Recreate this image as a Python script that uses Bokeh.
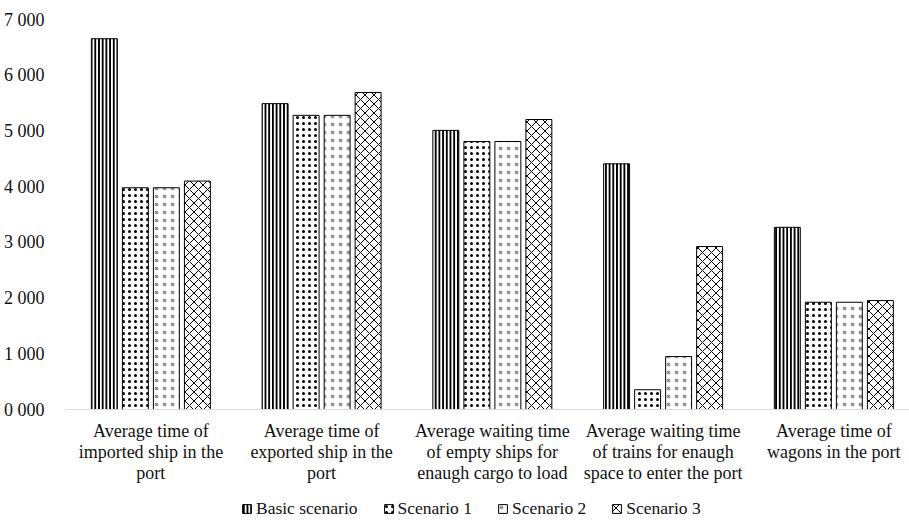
from bokeh.plotting import figure
from bokeh.core.properties import value
from bokeh.models import ColumnDataSource, Range1d, FixedTicker, Legend, LegendItem, Span
from bokeh.transform import dodge
from bokeh.embed import file_html
from bokeh.resources import INLINE

# Category labels (multi-line, as printed under each group)
categories = [
    "Average time of\nimported ship in the\nport",
    "Average time of\nexported ship in the\nport",
    "Average waiting time\nof empty ships for\nenaugh cargo to load",
    "Average waiting time\nof trains for enaugh\nspace to enter the port",
    "Average time of\nwagons in the port",
]

series_names = ["Basic scenario", "Scenario 1", "Scenario 2", "Scenario 3"]

basic_scenario = [6655, 5490, 5010, 4410, 3270]
scenario_1 = [3980, 5280, 4810, 355, 1925]
scenario_2 = [3980, 5280, 4810, 950, 1925]
scenario_3 = [4100, 5690, 5205, 2925, 1955]

y_ticks = [0, 1000, 2000, 3000, 4000, 5000, 6000, 7000]
y_tick_labels = ["0 000", "1 000", "2 000", "3 000", "4 000", "5 000", "6 000", "7 000"]

FONT = "Liberation Serif"
TEXT = "#111111"

W, H = 909, 520
TOP, LEFT = 19, 65
BAR_AREA = 390              # pixels from the 0 line up to 7 000
BELOW = H - TOP - BAR_AREA  # room under the 0 line for labels and legend
Y_MAX = 7000

centers = [i + 0.5 for i in range(len(categories))]
source = ColumnDataSource(dict(
    x=centers, basic=basic_scenario, s1=scenario_1, s2=scenario_2, s3=scenario_3,
))

p = figure(
    width=W, height=H,
    x_range=Range1d(0, 4.943),
    y_range=Range1d(-Y_MAX * BELOW / BAR_AREA, Y_MAX),
    output_backend="svg", toolbar_location=None,
    min_border_left=LEFT, min_border_right=0, min_border_top=TOP, min_border_bottom=0,
    background_fill_color="white", border_fill_color="white",
)
p.outline_line_color = None
p.xgrid.grid_line_color = None
p.ygrid.grid_line_color = None
p.xaxis.visible = False

bar_w = 0.152
offsets = [-0.2724, -0.0908, 0.0908, 0.2724]
styles = [
    dict(hatch_pattern="vertical_line", hatch_scale=3.7, hatch_weight=2.0),
    dict(hatch_pattern="dot", hatch_scale=6, hatch_weight=3.5),
    dict(hatch_pattern="dot", hatch_scale=8, hatch_weight=0.5, hatch_alpha=0.4),
    dict(hatch_pattern="diagonal_cross", hatch_scale=9, hatch_weight=1.0),
]
cols = ["basic", "s1", "s2", "s3"]

# baseline at zero
p.add_layout(Span(location=0, dimension="width", line_color="#d9d9d9", line_width=1))

renderers = []
for col, off, st in zip(cols, offsets, styles):
    r = p.vbar(
        x=dodge("x", off, range=p.x_range), top=col, width=bar_w, bottom=0,
        source=source, fill_color="white", line_color="#000000", line_width=1,
        hatch_color="#000000", **st,
    )
    renderers.append(r)

# category labels under each group
p.text(
    x=centers, y=[0] * len(centers), text=categories,
    text_align="center", text_baseline="top", y_offset=11,
    text_font=value(FONT), text_font_size="18px", text_line_height=1.05,
    text_color=TEXT,
)

# y axis
p.yaxis.ticker = FixedTicker(ticks=y_ticks)
p.yaxis.major_label_overrides = {t: lab for t, lab in zip(y_ticks, y_tick_labels)}
p.yaxis.axis_line_color = None
p.yaxis.major_tick_line_color = None
p.yaxis.minor_tick_line_color = None
p.yaxis.major_label_standoff = 15
p.yaxis.major_label_text_font = FONT
p.yaxis.major_label_text_font_size = "18px"
p.yaxis.major_label_text_color = TEXT

legend = Legend(
    items=[LegendItem(label=n, renderers=[r]) for n, r in zip(series_names, renderers)],
    orientation="horizontal", location=(176, 1),
    glyph_width=11, glyph_height=11, label_standoff=4, spacing=25,
    padding=0, margin=0, border_line_color=None, background_fill_alpha=0,
    label_text_font=FONT, label_text_font_size="17.5px", label_text_color=TEXT,
)
p.add_layout(legend)

open("out.html", "w").write(file_html(p, INLINE))
